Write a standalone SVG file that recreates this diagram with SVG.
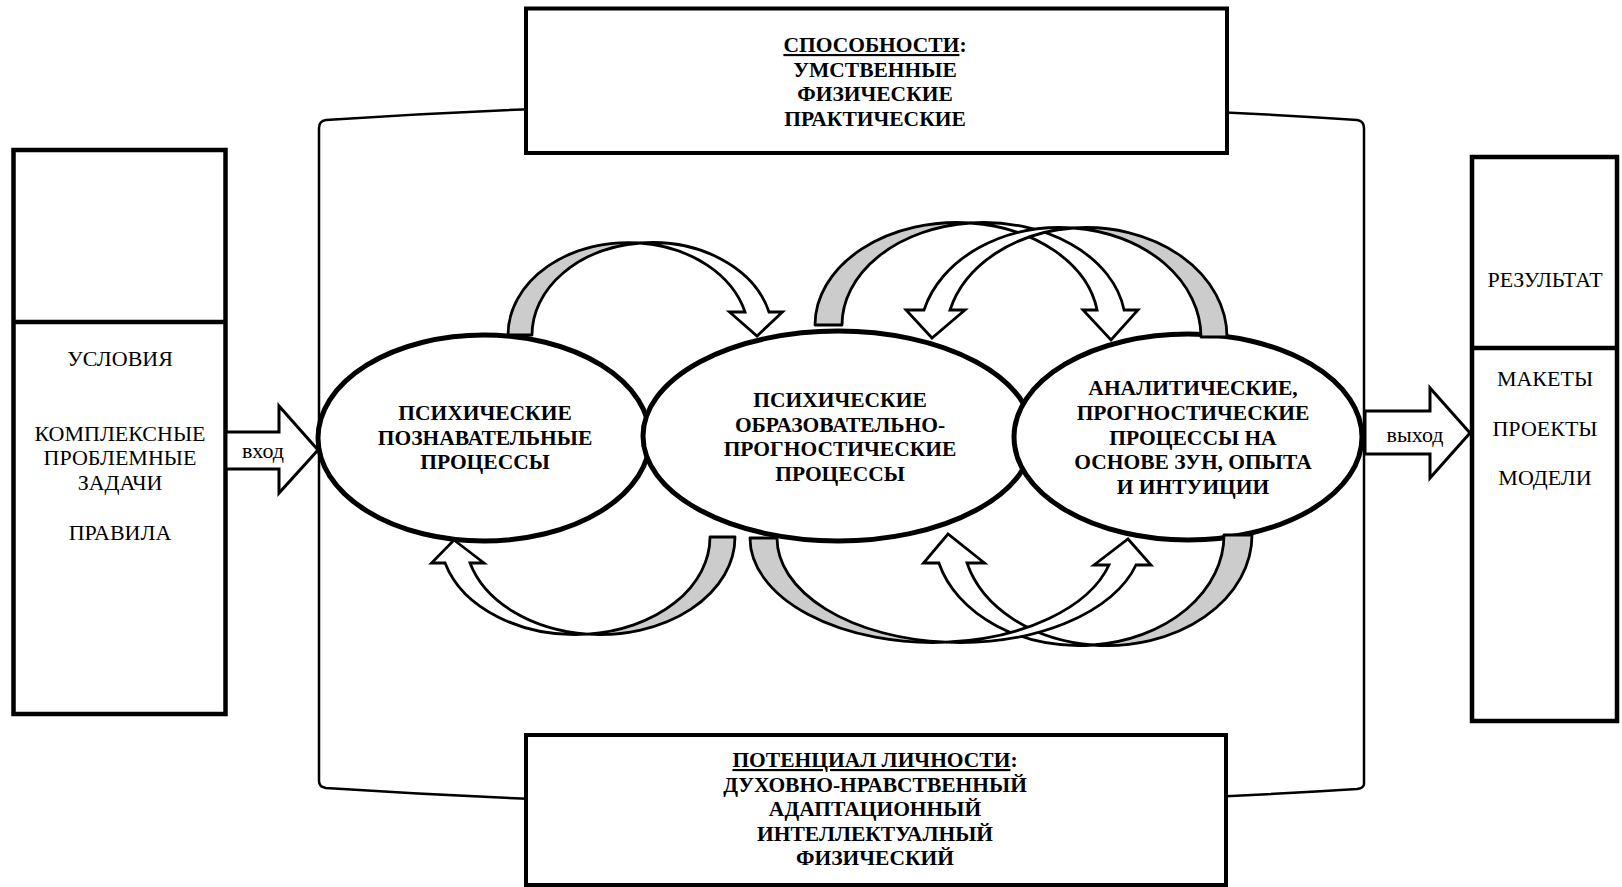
<svg xmlns="http://www.w3.org/2000/svg" width="1622" height="887" viewBox="0 0 1622 887">
<style>
.cont{fill:none;stroke:#000;stroke-width:2.5}
.box{fill:#fff;stroke:#000;stroke-width:4.5}
.ell{fill:#fff;stroke:#000;stroke-width:5}
.blk{fill:#fff;stroke:#000;stroke-width:3;stroke-linejoin:miter}
.gr{fill:#cccccc;stroke:#000;stroke-width:2.8;stroke-linejoin:round}
.wh{fill:#fff;stroke:#000;stroke-width:2.8;stroke-linejoin:miter}
.b{font-family:"Liberation Serif","Times New Roman",serif;font-weight:bold;font-size:21.5px;text-anchor:middle;fill:#000}
.r{font-family:"Liberation Serif","Times New Roman",serif;font-size:22px;text-anchor:middle;fill:#000}
.s{font-family:"Liberation Serif","Times New Roman",serif;font-size:22px;text-anchor:middle;fill:#000}
</style>
<rect width="1622" height="887" fill="#fff"/>
<g id="container">
<path class="cont" d="M319,781 L319,128 Q319,121 326,120 Q842,86 1357,120 Q1364,121 1364,128 L1364,784 Q1364,788 1357,789 Q842,822 326,788 Q319,787 319,781 Z"/>
</g>
<g id="box-top">
<rect class="box" x="526" y="8.5" width="701" height="144.5" style="stroke-width:4"/>
<text class="b" x="875" y="52"><tspan text-decoration="underline">СПОСОБНОСТИ</tspan>:</text>
<text class="b" x="875" y="76.5">УМСТВЕННЫЕ</text>
<text class="b" x="875" y="101">ФИЗИЧЕСКИЕ</text>
<text class="b" x="875" y="125.5">ПРАКТИЧЕСКИЕ</text>
</g>
<g id="box-bottom">
<rect class="box" x="526" y="735" width="700" height="150" style="stroke-width:4"/>
<text class="b" x="875" y="767"><tspan text-decoration="underline">ПОТЕНЦИАЛ ЛИЧНОСТИ</tspan>:</text>
<text class="b" x="875" y="791.5">ДУХОВНО-НРАВСТВЕННЫЙ</text>
<text class="b" x="875" y="816">АДАПТАЦИОННЫЙ</text>
<text class="b" x="875" y="840.5">ИНТЕЛЛЕКТУАЛНЫЙ</text>
<text class="b" x="875" y="865">ФИЗИЧЕСКИЙ</text>
</g>
<g id="box-left">
<rect class="box" x="13.5" y="150" width="212" height="564"/>
<line x1="13.5" y1="322" x2="225.5" y2="322" stroke="#000" stroke-width="4.5"/>
<text class="r" x="120" y="366">УСЛОВИЯ</text>
<text class="r" x="120" y="440.5">КОМПЛЕКСНЫЕ</text>
<text class="r" x="120" y="465">ПРОБЛЕМНЫЕ</text>
<text class="r" x="120" y="489.5">ЗАДАЧИ</text>
<text class="r" x="120" y="540">ПРАВИЛА</text>
</g>
<g id="box-right">
<rect class="box" x="1472" y="157" width="145" height="564"/>
<line x1="1472" y1="348" x2="1617" y2="348" stroke="#000" stroke-width="4.5"/>
<text class="r" x="1545" y="286.5">РЕЗУЛЬТАТ</text>
<text class="r" x="1545" y="385.5">МАКЕТЫ</text>
<text class="r" x="1545" y="435.5">ПРОЕКТЫ</text>
<text class="r" x="1545" y="484.5">МОДЕЛИ</text>
</g>
<g id="connectors-io">
<polygon class="blk" points="226,432 279,432 279,406 318,450 279,493 279,469 226,469"/>
<text class="s" x="263" y="457.5">вход</text>
<polygon class="blk" points="1365,411 1430,411 1430,388 1470,433 1430,478 1430,454 1365,454"/>
<text class="s" x="1415" y="442">выход</text>
</g>
<g id="node-cognitive">
<ellipse class="ell" cx="484" cy="438" rx="166" ry="103"/>
<text class="b" x="485" y="420">ПСИХИЧЕСКИЕ</text>
<text class="b" x="485" y="444.5">ПОЗНАВАТЕЛЬНЫЕ</text>
<text class="b" x="485" y="469">ПРОЦЕССЫ</text>
</g>
<g id="node-educational">
<ellipse class="ell" cx="838" cy="436" rx="195" ry="105"/>
<text class="b" x="840" y="407">ПСИХИЧЕСКИЕ</text>
<text class="b" x="840" y="431.5">ОБРАЗОВАТЕЛЬНО-</text>
<text class="b" x="840" y="456">ПРОГНОСТИЧЕСКИЕ</text>
<text class="b" x="840" y="480.5">ПРОЦЕССЫ</text>
</g>
<g id="node-analytic">
<ellipse class="ell" cx="1188" cy="437" rx="174" ry="103"/>
<text class="b" x="1193" y="395">АНАЛИТИЧЕСКИЕ,</text>
<text class="b" x="1193" y="420">ПРОГНОСТИЧЕСКИЕ</text>
<text class="b" x="1193" y="444.5">ПРОЦЕССЫ НА</text>
<text class="b" x="1193" y="469">ОСНОВЕ ЗУН, ОПЫТА</text>
<text class="b" x="1193" y="493.5">И ИНТУИЦИИ</text>
</g>
<g id="connectors">
<g id="arrow-a">
<path class="gr" d="M508,335 A120.4 92.5 0 0 1 640.4,243 A120.4 92.5 0 0 0 532,335 Z"/>
<path class="wh" d="M640.4,243 A120.4 92.5 0 0 1 769,312 L782.5,312 L757,336 L729.5,312 L745,312 A120.4 92.5 0 0 0 640.4,243 Z"/>
</g>
<g id="arrow-b">
<path class="gr" d="M815,325 A141.8 102.5 0 0 1 970.3,223 A141.8 102.5 0 0 0 842,325 Z"/>
<path class="wh" d="M970.3,223 A141.8 102.5 0 0 1 1124.1,310 L1138,310 L1111,340 L1083,310 L1097.1,310 A141.8 102.5 0 0 0 970.3,223 Z"/>
</g>
<g id="arrow-c">
<path class="gr" d="M1227,337 A140.7 109.5 0 0 0 1073.3,228 A140.7 109.5 0 0 1 1201,337 Z"/>
<path class="wh" d="M1073.3,228 A140.7 109.5 0 0 0 924,310 L906,310 L932,338 L965,310 L950,310 A140.7 109.5 0 0 1 1073.3,228 Z"/>
</g>
<g id="arrow-d">
<path class="gr" d="M735,537 A134.9 97.5 0 0 1 587.6,634.1 A134.9 97.5 0 0 0 710,537 Z"/>
<path class="wh" d="M587.6,634.1 A134.9 97.5 0 0 1 445.1,563 L431.5,563 L454,540 L484,563 L470,563 A134.9 97.5 0 0 0 587.6,634.1 Z"/>
</g>
<g id="arrow-f">
<path class="gr" d="M1252,535 A144.9 110.5 0 0 1 1093.1,645 A144.9 110.5 0 0 0 1224,535 Z"/>
<path class="wh" d="M1093.1,645 A144.9 110.5 0 0 1 938.9,563 L923.5,563 L948,534 L984.5,563 L967,563 A144.9 110.5 0 0 0 1093.1,645 Z"/>
</g>
<g id="arrow-e">
<path class="gr" d="M750,538 A182.6 104.5 0 0 0 946.1,642.2 A182.6 104.5 0 0 1 777,538 Z"/>
<path class="wh" d="M946.1,642.2 A182.6 104.5 0 0 0 1136,565 L1151,565 L1128,539 L1094,565 L1109,565 A182.6 104.5 0 0 1 946.1,642.2 Z"/>
</g>
</g>
</svg>
